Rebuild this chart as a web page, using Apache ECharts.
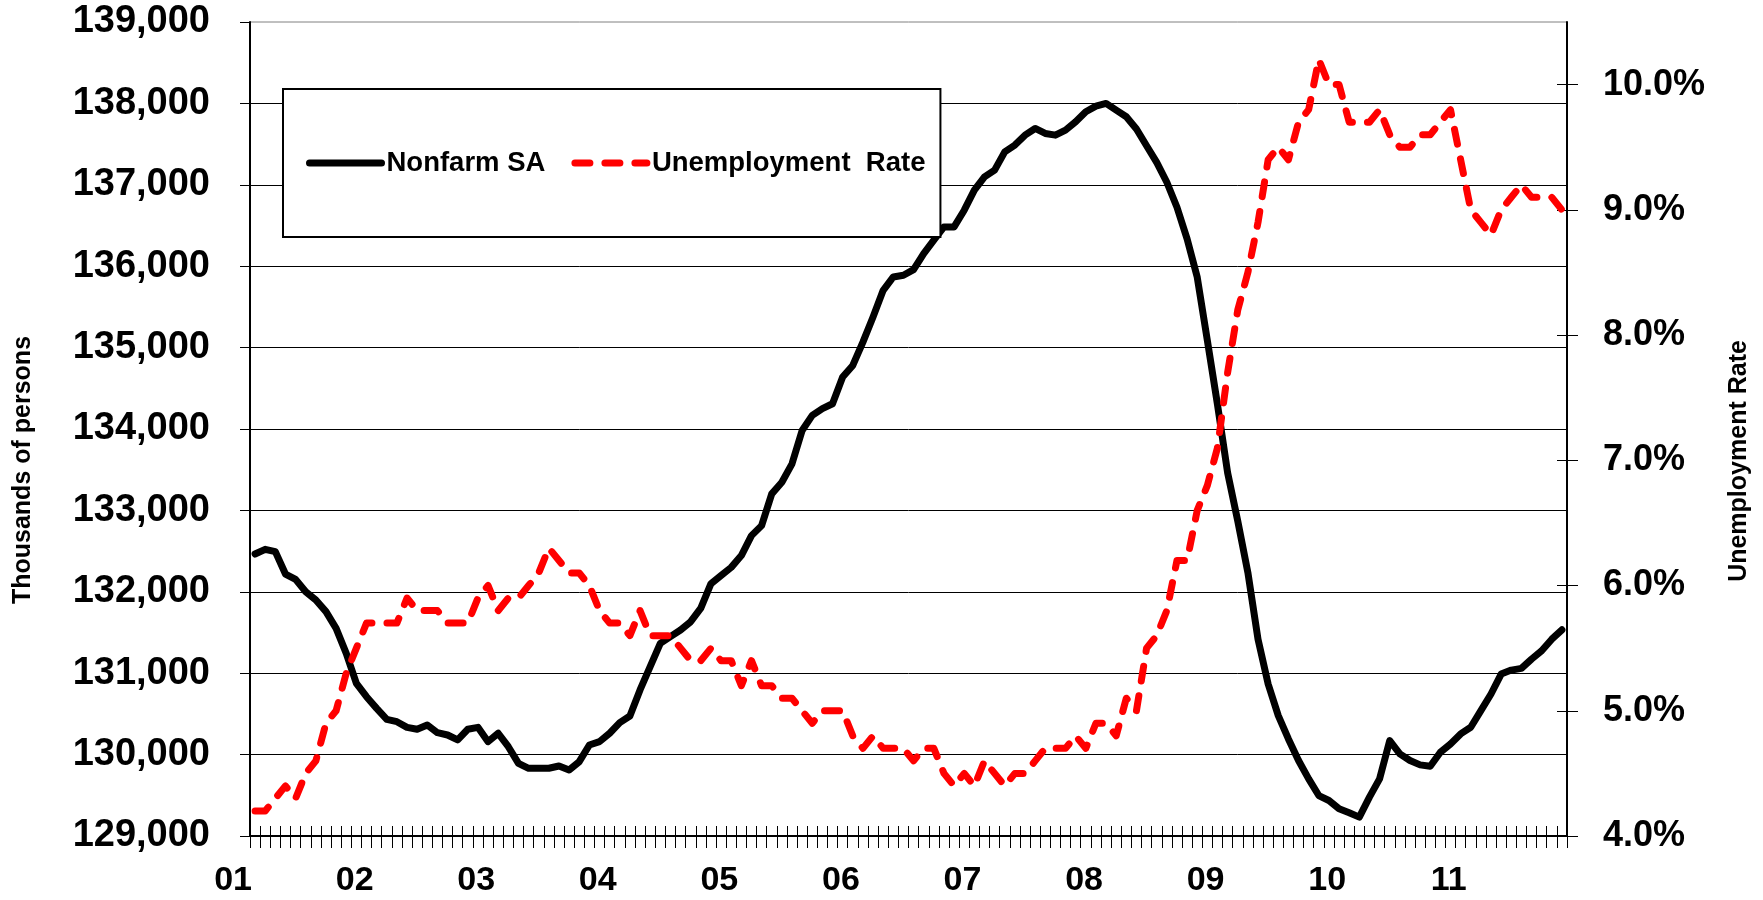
<!DOCTYPE html>
<html>
<head>
<meta charset="utf-8">
<title>Nonfarm SA vs Unemployment Rate</title>
<script src="https://cdn.jsdelivr.net/npm/echarts@6/dist/echarts.min.js"></script>
<style>
  html, body { margin: 0; padding: 0; background: #fff; }
  #chart { width: 1763px; height: 900px; }
</style>
</head>
<body>
<div id="chart"></div>
<script>
// year tick labels, one every 12 months (Jan 2001 .. Oct 2011)
var yearLabels = ['01', '02', '03', '04', '05', '06', '07', '08', '09', '10', '11']
var monthsInLastYear = 10

// Nonfarm payrolls, SA, thousands of persons
var nonfarm = [
  132464, 132522, 132493, 132218, 132153, 132000, 131900, 131756, 131551, 131244, 130876, 130711,
  130568, 130433, 130404, 130335, 130311, 130364, 130269, 130241, 130180, 130311, 130335, 130159,
  130262, 130097, 129893, 129832, 129832, 129832, 129860, 129811, 129913, 130118, 130159, 130262,
  130393, 130474, 130794, 131080, 131367, 131449, 131531, 131633, 131800, 132100, 132200, 132300,
  132445, 132690, 132813, 133203, 133346, 133572, 133982, 134167, 134250, 134310, 134638, 134781,
  135068, 135376, 135704, 135868, 135889, 135958, 136155, 136319, 136483, 136483, 136688, 136934,
  137098, 137180, 137405, 137488, 137610, 137692, 137631, 137610, 137672, 137775, 137898, 137967,
  138000, 137918, 137836, 137685, 137480, 137276, 137031, 136724, 136335, 135865, 135088, 134300,
  133463, 132869, 132236, 131418, 130867, 130478, 130192, 129927, 129702, 129497, 129436, 129334,
  129285, 129232, 129477, 129702, 130172, 130009, 129927, 129874, 129857, 130029, 130131, 130254,
  130336, 130540, 130744, 130989, 131038, 131059, 131173, 131275, 131418, 131533
]

// unemployment rate, %
var unemployment = [
  4.2, 4.2, 4.3, 4.4, 4.3, 4.5, 4.6, 4.9, 5.0, 5.3, 5.5, 5.7,
  5.7, 5.7, 5.7, 5.9, 5.8, 5.8, 5.8, 5.7, 5.7, 5.7, 5.9, 6.0,
  5.8, 5.9, 5.9, 6.0, 6.1, 6.3, 6.2, 6.1, 6.1, 6.0, 5.8, 5.7,
  5.7, 5.6, 5.8, 5.6, 5.6, 5.6, 5.5, 5.4, 5.4, 5.5, 5.4, 5.4,
  5.2, 5.4, 5.2, 5.2, 5.1, 5.1, 5.0, 4.9, 5.0, 5.0, 5.0, 4.8,
  4.7, 4.8, 4.7, 4.7, 4.7, 4.6, 4.7, 4.7, 4.5, 4.4, 4.5, 4.4,
  4.6, 4.5, 4.4, 4.5, 4.5, 4.6, 4.7, 4.7, 4.7, 4.8, 4.7, 4.9,
  4.9, 4.8, 5.1, 5.0, 5.5, 5.6, 5.8, 6.2, 6.2, 6.6, 6.8, 7.1,
  7.7, 8.2, 8.5, 8.9, 9.4, 9.5, 9.4, 9.7, 9.8, 10.2, 10.0, 10.0,
  9.7, 9.7, 9.7, 9.8, 9.6, 9.5, 9.5, 9.6, 9.6, 9.7, 9.8, 9.4,
  9.0, 8.9, 8.8, 9.0, 9.1, 9.2, 9.1, 9.1, 9.1, 9.0
]

var rateTicks = [4, 5, 6, 7, 8, 9, 10]

var months = []
yearLabels.forEach(function (y, yi) {
  var n = yi === yearLabels.length - 1 ? monthsInLastYear : 12
  for (var m = 1; m <= n; m++) {
    months.push(y + '-' + (m < 10 ? '0' + m : m))
  }
})

var FONT = "'Liberation Sans', Arial, sans-serif"

var chart = echarts.init(document.getElementById('chart'))

chart.setOption({
  backgroundColor: '#fff',
  animation: false,
  grid: {
    left: 250,
    right: 196,
    top: 22,
    bottom: 64,
    show: true,
    borderColor: '#808080',
    borderWidth: 1
  },
  legend: {
    left: 283,
    top: 89,
    orient: 'horizontal',
    backgroundColor: '#fff',
    borderColor: '#000',
    borderWidth: 2,
    padding: [60, 15, 60, 23],
    itemWidth: 72,
    itemHeight: 14,
    itemGap: 26,
    // hide the symbol ECharts puts in the middle of line icons
    itemStyle: { opacity: 0 },
    lineStyle: { width: 7, cap: 'round' },
    textStyle: {
      fontFamily: FONT,
      fontWeight: 'bold',
      fontSize: 27.5,
      color: '#000'
    },
    data: ['Nonfarm SA', 'Unemployment  Rate']
  },
  xAxis: [{
    type: 'category',
    data: months,
    boundaryGap: true,
    axisLine: {
      lineStyle: { color: '#000', width: 2 }
    },
    axisTick: {
      show: true,
      interval: 0,
      length: 12,
      lineStyle: { color: '#000', width: 1 }
    },
    axisLabel: {
      interval: 11,
      margin: 28,
      padding: [0, 44, 0, 0],
      fontFamily: FONT,
      fontWeight: 'bold',
      fontSize: 34,
      color: '#000',
      formatter: function (value, index) {
        return yearLabels[Math.floor(index / 12)]
      }
    },
    splitLine: { show: false }
  }, {
    // inner half of the cross ticks
    type: 'category',
    data: months,
    position: 'bottom',
    boundaryGap: true,
    axisLine: { show: false },
    axisTick: {
      show: true,
      inside: true,
      interval: 0,
      length: 10,
      lineStyle: { color: '#000', width: 1 }
    },
    axisLabel: { show: false },
    splitLine: { show: false }
  }],
  yAxis: [{
    type: 'value',
    min: 129000,
    max: 139000,
    interval: 1000,
    position: 'left',
    axisLine: {
      show: true,
      lineStyle: { color: '#000', width: 2 }
    },
    axisTick: {
      show: true,
      length: 10,
      lineStyle: { color: '#000', width: 1 }
    },
    axisLabel: {
      margin: 40,
      fontFamily: FONT,
      fontWeight: 'bold',
      fontSize: 38,
      color: '#000',
      formatter: function (value) {
        return value.toLocaleString('en-US')
      }
    },
    splitLine: {
      show: true,
      showMaxLine: false,
      lineStyle: { color: '#000', width: 1 }
    }
  }, {
    type: 'value',
    min: 4,
    max: 10.5,
    position: 'right',
    axisLine: {
      show: true,
      lineStyle: { color: '#000', width: 2 }
    },
    axisTick: {
      show: true,
      length: 11,
      customValues: rateTicks,
      lineStyle: { color: '#000', width: 1 }
    },
    axisLabel: {
      margin: 36,
      customValues: rateTicks,
      fontFamily: FONT,
      fontWeight: 'bold',
      fontSize: 36,
      color: '#000',
      formatter: function (value) {
        return value.toFixed(1) + '%'
      }
    },
    splitLine: { show: false }
  }, {
    // inner half of the right cross ticks
    type: 'value',
    min: 4,
    max: 10.5,
    position: 'right',
    axisLine: { show: false },
    axisTick: {
      show: true,
      inside: true,
      length: 10,
      customValues: rateTicks,
      lineStyle: { color: '#000', width: 1 }
    },
    axisLabel: { show: false },
    splitLine: { show: false }
  }],
  graphic: [{
    type: 'text',
    x: 23,
    y: 470,
    rotation: Math.PI / 2,
    style: {
      text: 'Thousands of persons',
      font: 'bold 25px ' + FONT,
      fill: '#000',
      textAlign: 'center',
      textVerticalAlign: 'middle'
    }
  }, {
    type: 'text',
    x: 1739,
    y: 461,
    rotation: Math.PI / 2,
    style: {
      text: 'Unemployment Rate',
      font: 'bold 25px ' + FONT,
      fill: '#000',
      textAlign: 'center',
      textVerticalAlign: 'middle'
    }
  }],
  series: [{
    name: 'Nonfarm SA',
    type: 'line',
    xAxisIndex: 0,
    yAxisIndex: 0,
    data: nonfarm,
    symbol: 'none',
    z: 3,
    lineStyle: {
      color: '#000',
      width: 7,
      cap: 'round',
      join: 'round'
    },
    itemStyle: { color: '#000' }
  }, {
    name: 'Unemployment  Rate',
    type: 'line',
    xAxisIndex: 0,
    yAxisIndex: 1,
    data: unemployment,
    symbol: 'none',
    z: 4,
    lineStyle: {
      color: '#ff0000',
      width: 7,
      type: [15, 15],
      cap: 'round',
      join: 'round'
    },
    itemStyle: { color: '#ff0000' }
  }]
})
</script>
</body>
</html>
